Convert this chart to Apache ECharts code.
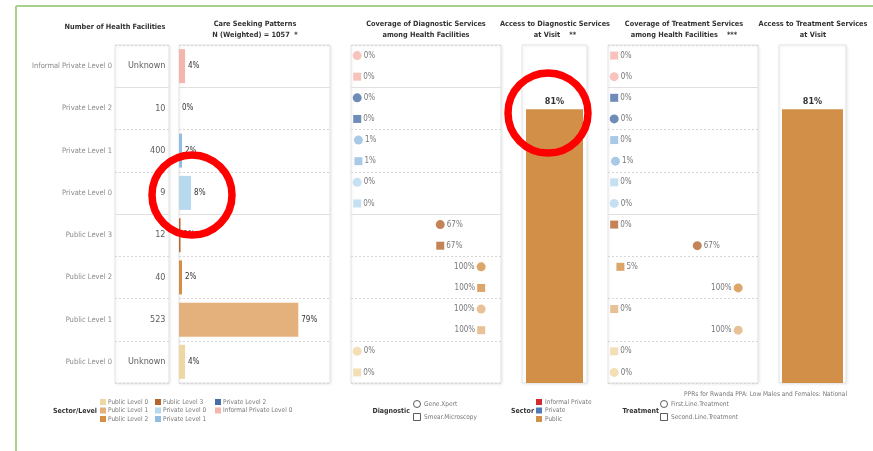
<!DOCTYPE html>
<html>
<head>
<meta charset="utf-8">
<title>Health Facilities</title>
<script src="https://cdn.jsdelivr.net/npm/echarts@6/dist/echarts.min.js"></script>
<style>
  html, body { margin: 0; padding: 0; background: #fff; }
  #chart { width: 873px; height: 451px; }
</style>
</head>
<body>
<div id="chart"></div>
<script>
// rows, top to bottom
const levels = ['Informal Private Level 0', 'Private Level 2', 'Private Level 1', 'Private Level 0',
  'Public Level 3', 'Public Level 2', 'Public Level 1', 'Public Level 0']
const levelColors = ['#f4b5ad', '#4a6fa5', '#93bde0', '#b6d9ee', '#b5652d', '#d48f45', '#e4b17c', '#efd7a4']
const facilityCounts = ['Unknown', '10', '400', '9', '12', '40', '523', 'Unknown']
const careSeeking = [4, 0, 2, 8, 1, 2, 79, 4]
const geneXpert = [0, 0, 1, 0, 67, 100, 100, 0]
const smearMicroscopy = [0, 0, 1, 0, 67, 100, 100, 0]
const firstLineTreatment = [0, 0, 1, 0, 67, 100, 100, 0]
const secondLineTreatment = [0, 0, 0, 0, 0, 5, 0, 0]
const accessDiagnostic = [81]
const accessTreatment = [81]
const sectorNames = ['Informal Private', 'Private', 'Public']
const sectorColors = ['#d42a2e', '#4e7bb5', '#d18f48']

const FONT = "'Liberation Sans Narrow', 'DejaVu Sans Condensed', 'Roboto Condensed', sans-serif"
const TOP = 45, H = 338

const chart = echarts.init(document.getElementById('chart'))

const gridBox = (left, width) => ({
  left, top: TOP, width, height: H, show: true,
  borderColor: '#e4e4e4', borderWidth: 1, backgroundColor: '#fff',
  shadowColor: 'rgba(0,0,0,0.08)', shadowBlur: 3, shadowOffsetX: 1, shadowOffsetY: 1
})
const hidden = { axisLine: { show: false }, axisTick: { show: false }, axisLabel: { show: false }, splitLine: { show: false } }
const rowAxis = (gridIndex) => ({
  type: 'value', gridIndex, min: 0, max: 8, interval: 1, inverse: true,
  axisLine: { show: false }, axisTick: { show: false }, axisLabel: { show: false },
  splitLine: { show: true, lineStyle: { color: '#d6d6d6', type: [2, 2] } }
})
const sectorLines = {
  silent: true, symbol: 'none', animation: false, label: { show: false },
  lineStyle: { color: '#e0e0e0', type: 'solid', width: 1 },
  data: [{ yAxis: 1 }, { yAxis: 4 }]
}

const markerData = (values, offset) => values.map((v, i) => ({
  value: [v, i + offset],
  itemStyle: { color: levelColors[i] },
  label: { position: v >= 100 ? 'left' : 'right' }
}))
const markerLabel = { show: true, formatter: p => p.value[0] + '%', fontSize: 8, color: '#555', distance: 2, fontFamily: FONT }

// titles and legends
const graphic = []
const title = (x, lines) => graphic.push({
  type: 'text', x, y: lines.length > 1 ? 19 : 22,
  style: { text: lines.join('\n'), align: 'center', verticalAlign: 'top', lineHeight: 11,
    font: 'bold 7.3px ' + FONT, fill: '#333' }
})
title(115, ['Number of Health Facilities'])
title(255, ['Care Seeking Patterns', 'N (Weighted) = 1057  *'])
title(426, ['Coverage of Diagnostic Services', 'among Health Facilities'])
title(555, ['Access to Diagnostic Services', 'at Visit    **'])
title(684, ['Coverage of Treatment Services', 'among Health Facilities    ***'])
title(813, ['Access to Treatment Services', 'at Visit'])

const smallText = (x, y, text, opts = {}) => graphic.push({
  type: 'text', x, y,
  style: Object.assign({ text, align: 'left', verticalAlign: 'middle', font: '6.5px ' + FONT, fill: '#777' }, opts)
})
const boldText = (x, y, text) => smallText(x, y, text, { align: 'right', font: 'bold 7px ' + FONT, fill: '#333' })

boldText(97, 411, 'Sector/Level')
const legendOrder = levels.slice().reverse()
const legendCols = [100, 155, 215]
legendOrder.forEach((name, k) => {
  const x = legendCols[Math.floor(k / 3)], y = 402 + (k % 3) * 8.5
  graphic.push({ type: 'rect', shape: { x, y: y - 3, width: 6, height: 6 },
    style: { fill: levelColors[levels.indexOf(name)] } })
  smallText(x + 8, y, name)
})

boldText(410, 411, 'Diagnostic')
graphic.push({ type: 'circle', shape: { cx: 417, cy: 404, r: 3.5 }, style: { fill: '#fff', stroke: '#333', lineWidth: 0.8 } })
graphic.push({ type: 'rect', shape: { x: 413.5, y: 413.5, width: 7, height: 7 }, style: { fill: '#fff', stroke: '#333', lineWidth: 0.8 } })
smallText(424, 404, 'Gene.Xpert')
smallText(424, 417, 'Smear.Microscopy')

boldText(534, 411, 'Sector')
sectorNames.forEach((name, k) => {
  const y = 402 + k * 8.5
  graphic.push({ type: 'rect', shape: { x: 536, y: y - 3, width: 6, height: 6 }, style: { fill: sectorColors[k] } })
  smallText(545, y, name)
})

smallText(847, 394, 'PPRs for Rwanda PPA: Low Males and Females: National', { align: 'right' })
boldText(659, 411, 'Treatment')
graphic.push({ type: 'circle', shape: { cx: 664, cy: 404, r: 3.5 }, style: { fill: '#fff', stroke: '#333', lineWidth: 0.8 } })
graphic.push({ type: 'rect', shape: { x: 660.5, y: 413.5, width: 7, height: 7 }, style: { fill: '#fff', stroke: '#333', lineWidth: 0.8 } })
smallText(671, 404, 'First.Line.Treatment')
smallText(671, 417, 'Second.Line.Treatment')

// frame and annotation rings
graphic.push({ type: 'line', shape: { x1: 16, y1: 6, x2: 16, y2: 451 }, style: { stroke: '#a9d18e', lineWidth: 2 } })
graphic.push({ type: 'line', shape: { x1: 16, y1: 6, x2: 873, y2: 6 }, style: { stroke: '#a9d18e', lineWidth: 2 } })
graphic.push({ type: 'circle', z: 100, shape: { cx: 192, cy: 195, r: 40 }, style: { fill: 'none', stroke: '#ff0000', lineWidth: 7.5 } })
graphic.push({ type: 'circle', z: 100, shape: { cx: 548, cy: 113, r: 40 }, style: { fill: 'none', stroke: '#ff0000', lineWidth: 7.5 } })

chart.setOption({
  animation: false,
  textStyle: { fontFamily: FONT },
  grid: [
    gridBox(115, 54),
    gridBox(179, 151),
    gridBox(351, 150),
    gridBox(522, 65),
    gridBox(608, 150),
    gridBox(779, 67)
  ],
  xAxis: [
    Object.assign({ type: 'value', gridIndex: 0, min: 0, max: 1 }, hidden),
    Object.assign({ type: 'value', gridIndex: 1, min: 0, max: 100 }, hidden),
    Object.assign({ type: 'value', gridIndex: 2, min: -5, max: 116 }, hidden),
    Object.assign({ type: 'category', gridIndex: 3, data: ['All'] }, hidden),
    Object.assign({ type: 'value', gridIndex: 4, min: -5, max: 116 }, hidden),
    Object.assign({ type: 'category', gridIndex: 5, data: ['All'] }, hidden)
  ],
  yAxis: [
    {
      type: 'category', gridIndex: 0, data: levels, inverse: true,
      axisLine: { show: false }, axisTick: { show: false }, splitLine: { show: false },
      axisLabel: { color: '#8a8a8a', fontSize: 7.5, margin: 3, fontFamily: FONT }
    },
    rowAxis(0),
    Object.assign({ type: 'category', gridIndex: 1, data: levels, inverse: true }, hidden),
    rowAxis(1),
    rowAxis(2),
    Object.assign({ type: 'value', gridIndex: 3, min: 0, max: 100 }, hidden),
    rowAxis(4),
    Object.assign({ type: 'value', gridIndex: 5, min: 0, max: 100 }, hidden)
  ],
  graphic,
  series: [
    {
      name: 'Number of Health Facilities', type: 'scatter', xAxisIndex: 0, yAxisIndex: 1,
      symbolSize: 1, itemStyle: { color: 'rgba(0,0,0,0)' },
      data: facilityCounts.map((c, i) => [1, i + 0.5]),
      label: { show: true, position: 'left', distance: 3, fontSize: 9, color: '#333',
        formatter: p => facilityCounts[p.dataIndex] },
      markLine: sectorLines
    },
    {
      name: 'Care Seeking Patterns', type: 'bar', xAxisIndex: 1, yAxisIndex: 2, barWidth: 34,
      data: careSeeking.map((v, i) => ({ value: v, itemStyle: { color: levelColors[i] } })),
      label: { show: true, position: 'right', distance: 3, fontSize: 8, color: '#333', formatter: '{c}%' }
    },
    {
      name: 'rows', type: 'scatter', xAxisIndex: 1, yAxisIndex: 3, data: [], markLine: sectorLines
    },
    {
      name: 'Gene.Xpert', type: 'scatter', xAxisIndex: 2, yAxisIndex: 4, symbol: 'circle', symbolSize: 9,
      data: markerData(geneXpert, 0.25), label: markerLabel, markLine: sectorLines
    },
    {
      name: 'Smear.Microscopy', type: 'scatter', xAxisIndex: 2, yAxisIndex: 4, symbol: 'rect', symbolSize: 8,
      data: markerData(smearMicroscopy, 0.75), label: markerLabel
    },
    {
      name: 'Access to Diagnostic Services', type: 'bar', xAxisIndex: 3, yAxisIndex: 5, barWidth: 57,
      itemStyle: { color: sectorColors[2] }, data: accessDiagnostic,
      label: { show: true, position: 'top', distance: 3, fontSize: 9, fontWeight: 'bold', color: '#333', formatter: '{c}%' }
    },
    {
      name: 'Second.Line.Treatment', type: 'scatter', xAxisIndex: 4, yAxisIndex: 6, symbol: 'rect', symbolSize: 8,
      data: markerData(secondLineTreatment, 0.25), label: markerLabel, markLine: sectorLines
    },
    {
      name: 'First.Line.Treatment', type: 'scatter', xAxisIndex: 4, yAxisIndex: 6, symbol: 'circle', symbolSize: 9,
      data: markerData(firstLineTreatment, 0.75), label: markerLabel
    },
    {
      name: 'Access to Treatment Services', type: 'bar', xAxisIndex: 5, yAxisIndex: 7, barWidth: 61,
      itemStyle: { color: sectorColors[2] }, data: accessTreatment,
      label: { show: true, position: 'top', distance: 3, fontSize: 9, fontWeight: 'bold', color: '#333', formatter: '{c}%' }
    }
  ]
})
</script>
</body>
</html>
